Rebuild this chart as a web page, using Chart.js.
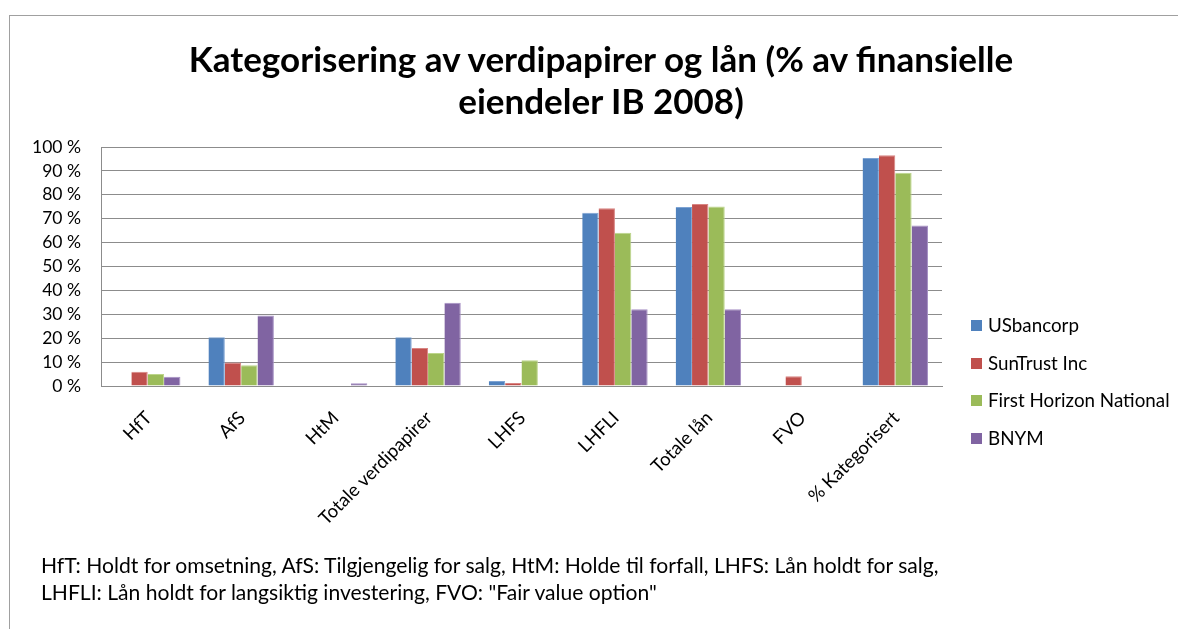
<!DOCTYPE html>
<html>
<head>
<meta charset="utf-8">
<script src="https://cdn.jsdelivr.net/npm/chart.js@4.4.1/dist/chart.umd.min.js"></script>
<style>
  html, body { margin: 0; padding: 0; background: #fff; }
  body { width: 1178px; height: 629px; position: relative; overflow: hidden; font-family: Lato, "Open Sans", sans-serif; }
  #frame { position: absolute; left: 9px; top: 15px; width: 1200px; height: 700px; border-left: 1px solid #a0a0a0; border-top: 1px solid #a0a0a0; }
  #wrap { position: absolute; left: 0; top: 0; width: 1178px; height: 629px; }
  #title { position: absolute; left: 0; width: 1202px; top: 37px; text-align: center; font-weight: bold; font-size: 35px; line-height: 42px; color: #000; }
  #legend { position: absolute; left: 971px; top: 314px; font-size: 18.8px; color: #000; }
  .li { height: 37.6px; line-height: 22px; display: flex; align-items: flex-start; }
  .sw { width: 11px; height: 11px; margin-top: 6px; margin-right: 6px; }
  #note { position: absolute; left: 41px; top: 551px; font-size: 21.1px; line-height: 27px; color: #000; }
</style>
</head>
<body>
<div id="frame"></div>
<div id="wrap"><canvas id="c" width="1178" height="629"></canvas></div>
<div id="title">Kategorisering av verdipapirer og lån (% av finansielle<br>eiendeler IB 2008)</div>
<div id="legend"></div>
<div id="note">HfT: Holdt for omsetning, AfS: Tilgjengelig for salg, HtM: Holde til forfall, LHFS: Lån holdt for salg,<br>LHFLI: Lån holdt for langsiktig investering, FVO: "Fair value option"</div>
<script>
const categories = ["HfT", "AfS", "HtM", "Totale verdipapirer", "LHFS", "LHFLI", "Totale lån", "FVO", "% Kategorisert"];
const seriesNames = ["USbancorp", "SunTrust Inc", "First Horizon National", "BNYM"];
const usbancorp = [0, 20.4, 0, 20.4, 2.1, 72.5, 74.9, 0, 95.4];
const suntrust  = [6.0, 9.8, 0, 15.9, 1.3, 74.4, 76.1, 4.1, 96.5];
const firstHorizon = [5.0, 8.7, 0, 13.8, 10.8, 64.1, 75.1, 0, 89.2];
const bnym = [3.9, 29.5, 1.1, 34.8, 0, 32.1, 32.1, 0, 67.2];
const yTicks = [0, 10, 20, 30, 40, 50, 60, 70, 80, 90, 100];
const colors = ["#4F81BD", "#C0504D", "#9BBB59", "#8064A2"];
const borders = ["#7DA3D3", "#D98583", "#BCD58A", "#A690C4"];

const seriesValues = [usbancorp, suntrust, firstHorizon, bnym];
const datasets = seriesNames.map((n, i) => ({
  label: n,
  data: seriesValues[i],
  backgroundColor: colors[i],
  borderColor: borders[i],
  borderWidth: {top: 1, left: 0, right: 1, bottom: 0},
  borderSkipped: false,
  categoryPercentage: 0.70,
  barPercentage: 1.0
}));

// HTML legend built from the series
const lg = document.getElementById('legend');
seriesNames.forEach((n, i) => {
  const d = document.createElement('div'); d.className = 'li';
  const s = document.createElement('div'); s.className = 'sw'; s.style.background = colors[i];
  const t = document.createElement('span'); t.textContent = n;
  d.appendChild(s); d.appendChild(t); lg.appendChild(d);
});

const FONT = 'Lato, "Open Sans", sans-serif';
new Chart(document.getElementById('c'), {
  type: 'bar',
  data: { labels: categories, datasets },
  options: {
    responsive: false,
    animation: false,
    devicePixelRatio: 1,
    layout: { padding: { left: 20, right: 236, top: 147, bottom: 0 } },
    plugins: { legend: { display: false }, title: { display: false }, tooltip: { enabled: false } },
    scales: {
      x: {
        grid: { display: false, drawTicks: false },
        border: { display: true, color: '#8c8c8c', width: 1 },
        ticks: { color: '#000', font: { family: FONT, size: 18.5 }, minRotation: 45, maxRotation: 45, padding: 21, labelOffset: 1, autoSkip: false },
        afterFit: (s) => { s.height = 243; }
      },
      y: {
        min: 0, max: 100,
        afterBuildTicks: (s) => { s.ticks = yTicks.map(v => ({ value: v })); },
        grid: { color: '#8c8c8c', lineWidth: 1, drawTicks: false },
        border: { display: true, color: '#8c8c8c', width: 1 },
        ticks: { color: '#000', font: { family: FONT, size: 17.5 }, padding: 20, autoSkip: false, callback: (v) => v + ' %' },
        afterFit: (s) => { s.width = 81; }
      }
    }
  }
});
</script>
</body>
</html>
